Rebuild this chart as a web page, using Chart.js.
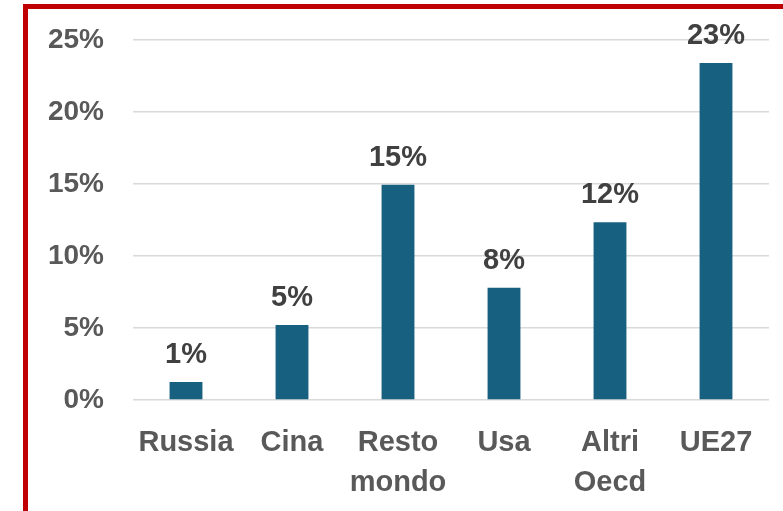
<!DOCTYPE html>
<html>
<head>
<meta charset="utf-8">
<script src="https://cdn.jsdelivr.net/npm/chart.js@4"></script>
<style>
  html, body { margin: 0; padding: 0; background: #fff; }
  body { width: 783px; height: 511px; position: relative; overflow: hidden; }
  #frame {
    position: absolute; left: 23px; top: 4px; right: -10px; bottom: -10px;
    border-left: 5px solid #C00000; border-top: 5px solid #C00000;
  }
  #wrap { position: absolute; left: 0; top: 0; width: 783px; height: 511px; }
</style>
</head>
<body>
<div id="frame"></div>
<div id="wrap"><canvas id="chart"></canvas></div>
<script>
// values (percent)
const categories = [['Russia'], ['Cina'], ['Resto', 'mondo'], ['Usa'], ['Altri', 'Oecd'], ['UE27']];
const shares = [1.25, 5.2, 14.95, 7.8, 12.35, 23.4];
const yTicks = [0, 5, 10, 15, 20, 25];

const FONT = '"Liberation Sans", Arial, sans-serif';

// draw the value labels above each bar
const barLabels = {
    id: 'barLabels',
    afterDatasetsDraw(chart) {
        const ctx = chart.ctx;
        const meta = chart.getDatasetMeta(0);
        ctx.save();
        ctx.font = 'bold 29px ' + FONT;
        ctx.fillStyle = '#404040';
        ctx.textAlign = 'center';
        ctx.textBaseline = 'alphabetic';
        meta.data.forEach((bar, i) => {
            ctx.fillText(Math.round(shares[i]) + '%', bar.x, bar.y - 19);
        });
        ctx.restore();
    }
};

new Chart(document.getElementById('chart'), {
    type: 'bar',
    data: {
        labels: categories,
        datasets: [{
            data: shares,
            backgroundColor: '#17607F',
            borderWidth: 0,
            categoryPercentage: 1,
            barPercentage: 0.31
        }]
    },
    options: {
        responsive: true,
        maintainAspectRatio: false,
        animation: false,
        layout: { padding: { top: 40, right: 14, bottom: 0, left: 0 } },
        plugins: {
            legend: { display: false },
            tooltip: { enabled: false }
        },
        scales: {
            y: {
                min: 0,
                max: 25,
                afterBuildTicks: (axis) => { axis.ticks = yTicks.map(v => ({ value: v })); },
                afterFit: (axis) => { axis.width = 133; axis.paddingTop = 0; },
                border: { display: false },
                grid: { color: '#D9D9D9', lineWidth: 1.5, drawTicks: false },
                ticks: {
                    padding: 29,
                    color: '#595959',
                    font: { family: FONT, size: 28, weight: 'bold', lineHeight: 1 },
                    callback: (v) => v + '%'
                }
            },
            x: {
                afterFit: (axis) => { axis.height = 111; },
                border: { display: false },
                grid: { display: false },
                ticks: {
                    padding: 15,
                    color: '#595959',
                    maxRotation: 0,
                    font: { family: FONT, size: 29, weight: 'bold', lineHeight: 1.38 }
                }
            }
        }
    },
    plugins: [barLabels]
});
</script>
</body>
</html>
